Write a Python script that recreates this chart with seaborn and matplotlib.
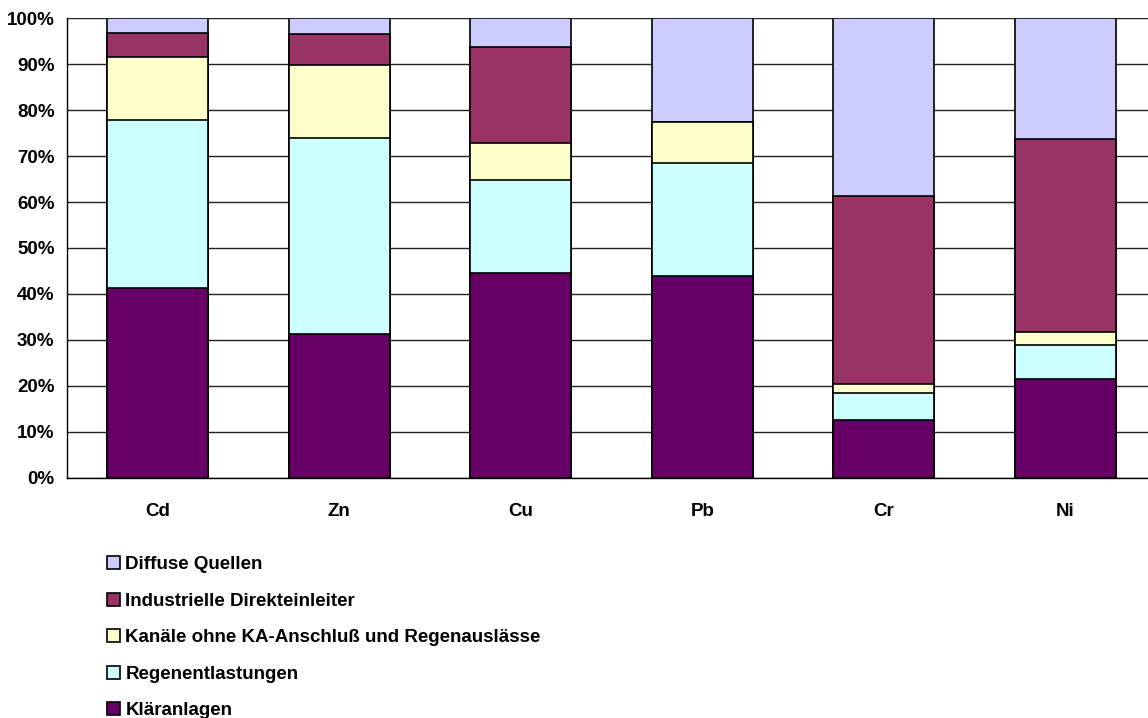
import numpy as np
import matplotlib
matplotlib.use("Agg")
import matplotlib.pyplot as plt
import seaborn as sns

# metals on the x axis
metals = ["Cd", "Zn", "Cu", "Pb", "Cr", "Ni"]

# shares in percent (bottom to top)
klaeranlagen = [41.4, 31.3, 44.6, 44.0, 12.6, 21.5]
regenentlastungen = [36.5, 42.7, 20.1, 24.4, 5.8, 7.3]
kanaele = [13.7, 15.9, 8.1, 9.0, 2.0, 3.0]
industrie = [5.3, 6.7, 21.0, 0.0, 41.0, 41.9]
diffuse = [3.1, 3.4, 6.2, 22.6, 38.6, 26.3]

labels = ["Kläranlagen", "Regenentlastungen",
          "Kanäle ohne KA-Anschluß und Regenauslässe",
          "Industrielle Direkteinleiter", "Diffuse Quellen"]
colors = ["#660066", "#CCFFFF", "#FFFFCC", "#993366", "#CCCCFF"]

sns.set_style("white")
plt.rcParams["font.family"] = ["Liberation Sans", "DejaVu Sans"]
plt.rcParams["font.weight"] = "bold"
plt.rcParams["text.color"] = "black"
plt.rcParams["xtick.color"] = "black"
plt.rcParams["ytick.color"] = "black"

layers = np.array([klaeranlagen, regenentlastungen, kanaele, industrie, diffuse])
cum = np.cumsum(layers, axis=0)

fig = plt.figure(figsize=(11.48, 7.18), dpi=100)
ax = fig.add_axes([0.0584, 0.3347, 0.9486, 0.6398])

# -----------------------------
# stacked bars: draw cumulative totals, tallest first
# -----------------------------
for i in range(len(labels) - 1, -1, -1):
    sns.barplot(x=metals, y=cum[i], color=colors[i], width=0.556,
                edgecolor="black", linewidth=1.2, saturation=1,
                errorbar=None, label=labels[i], ax=ax, zorder=3)

ax.set_ylim(0, 100)
ax.set_xlim(-0.5, 5.5)
ax.set_yticks(np.arange(0, 101, 10))
ax.set_yticklabels([f"{v}%" for v in range(0, 101, 10)])
ax.yaxis.grid(True, color="#222222", linewidth=1)
ax.set_axisbelow(True)
ax.set_xlabel("")
ax.set_ylabel("")

for s in ["top", "right"]:
    ax.spines[s].set_visible(False)
for s in ["left", "bottom"]:
    ax.spines[s].set_color("black")
    ax.spines[s].set_linewidth(1)

ax.set_xticks(np.arange(-0.5, 6.0, 1.0), minor=True)
ax.tick_params(axis="x", which="major", length=0, pad=18, labelsize=13.5)
ax.tick_params(axis="x", which="minor", length=6, width=1, color="black", direction="out")
ax.tick_params(axis="y", length=5, width=1, color="black", direction="out",
               labelsize=13.5, pad=4)
for t in ax.get_xticklabels() + ax.get_yticklabels():
    t.set_fontweight("bold")
    t.set_color("black")

# -----------------------------
# Legend
# -----------------------------
handles, labs = ax.get_legend_handles_labels()
if ax.get_legend() is not None:
    ax.get_legend().remove()
fig.legend(handles, labs, loc="upper left", bbox_to_anchor=(0.0788, 0.249),
           frameon=False, handlelength=0.69, handleheight=0.69,
           handletextpad=0.27, labelspacing=1.04,
           prop={"weight": "bold", "size": 13.5})

fig.savefig("out.png", dpi=100)
